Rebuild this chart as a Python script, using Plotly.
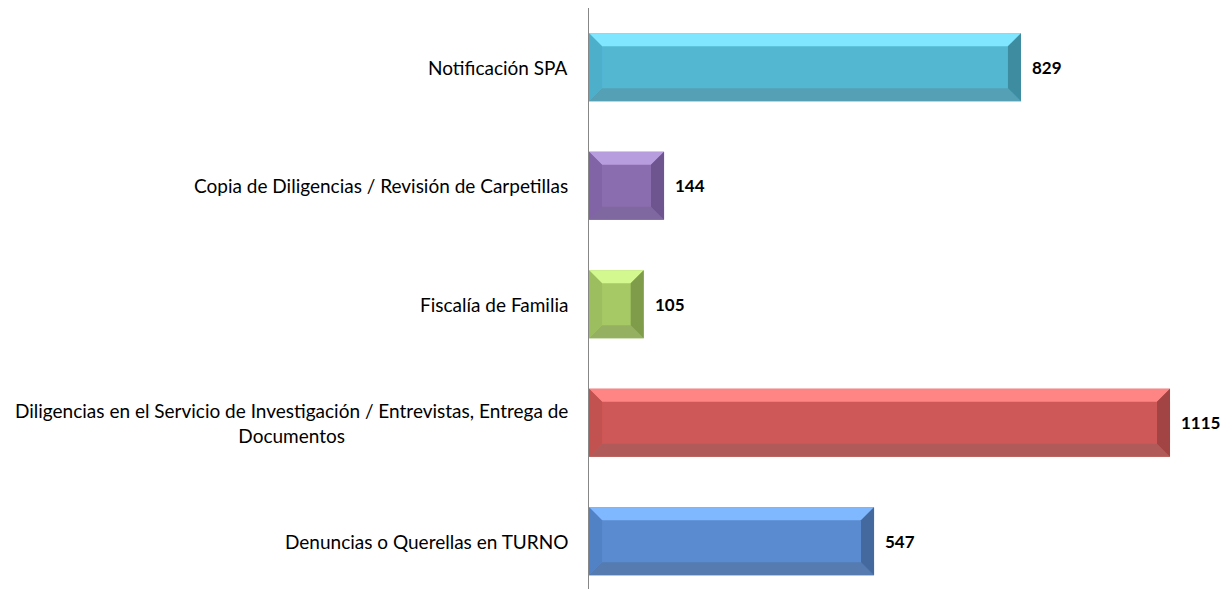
import plotly.graph_objects as go

# Data (top-to-bottom order as shown)
categories = [
    "Notificación SPA",
    "Copia de Diligencias / Revisión de Carpetillas",
    "Fiscalía de Familia",
    "Diligencias en el Servicio de Investigación / Entrevistas, Entrega de<br>Documentos",
    "Denuncias o Querellas en TURNO",
]
values = [829, 144, 105, 1115, 547]

main_colors = ["#53B7D2", "#8A6DAE", "#A6C965", "#CE5857", "#5A8ACF"]
top_colors = ["#80E6FF", "#B79CDE", "#D3F88F", "#FF8484", "#80B8FF"]
bottom_colors = ["#55A0B4", "#7F68A0", "#95B060", "#B05B5A", "#557BB0"]
left_colors = ["#4DAFCA", "#8064A5", "#9CBE5E", "#C25250", "#5282C6"]
right_colors = ["#3E8CA0", "#6E5590", "#7F9C4B", "#A24443", "#44699E"]

n = len(categories)
ypos = [n - 1 - i for i in range(n)]

BAR_W = 0.575
H = BAR_W / 2
DX = 25.0    # bevel in x data units
DY = 0.11    # bevel in y data units

fig = go.Figure()
fig.add_trace(go.Bar(
    x=values, y=ypos, orientation="h", width=BAR_W,
    marker=dict(color=main_colors, line=dict(width=0)),
    hoverinfo="skip", showlegend=False,
))

for v, y, tc, bc, lc, rc in zip(values, ypos, top_colors, bottom_colors, left_colors, right_colors):
    polys = [
        ([0, v, v - DX, DX, 0], [y + H, y + H, y + H - DY, y + H - DY, y + H], tc),
        ([0, v, v - DX, DX, 0], [y - H, y - H, y - H + DY, y - H + DY, y - H], bc),
        ([0, 0, DX, DX, 0], [y - H, y + H, y + H - DY, y - H + DY, y - H], lc),
        ([v, v, v - DX, v - DX, v], [y - H, y + H, y + H - DY, y - H + DY, y - H], rc),
    ]
    for px, py, c in polys:
        fig.add_trace(go.Scatter(
            x=px, y=py, mode="lines", fill="toself", fillcolor=c,
            line=dict(width=0, color=c), hoverinfo="skip", showlegend=False,
        ))

annotations = []
for cat, y in zip(categories, ypos):
    annotations.append(dict(
        x=0, xref="paper", y=y, yref="y", text=cat, showarrow=False,
        xanchor="right", yanchor="middle", align="center", xshift=-19,
        font=dict(family="Lato, Calibri, sans-serif", size=19, color="#000000"),
    ))
for v, y in zip(values, ypos):
    annotations.append(dict(
        x=v, xref="x", y=y, yref="y", text=f"<b>{v}</b>", showarrow=False,
        xanchor="left", yanchor="middle", xshift=9,
        font=dict(family="Lato, Calibri, sans-serif", size=17, color="#000000"),
    ))

fig.update_layout(
    width=1221, height=581,
    margin=dict(l=581, r=0, t=0, b=0, pad=0),
    paper_bgcolor="white", plot_bgcolor="white",
    annotations=annotations,
    xaxis=dict(range=[0, 640 / 0.5211], showgrid=False, zeroline=False,
               showticklabels=False, showline=False, fixedrange=True),
    yaxis=dict(range=[-0.403, 4.5], showgrid=False, zeroline=False,
               showticklabels=False, ticks="", showline=True,
               linecolor="#878787", linewidth=1, fixedrange=True),
)

fig.write_html("out.html")
